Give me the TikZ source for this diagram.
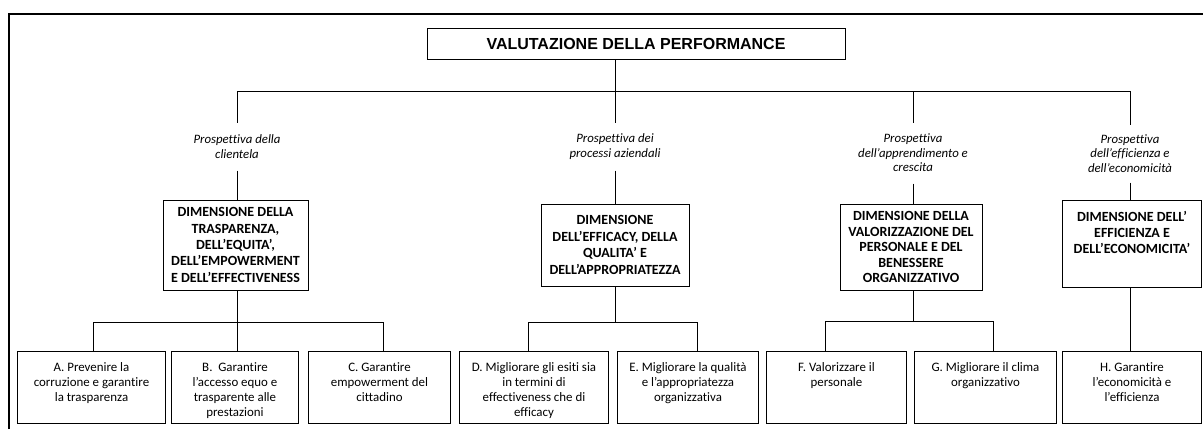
\documentclass[tikz,border=0pt]{standalone}
\usepackage{fontspec}
\setmainfont{Carlito}[Ligatures={TeX,NoCommon}]
\newfontfamily\titlefont{Liberation Sans}
\usepackage{tikz}

\begin{document}
\begin{tikzpicture}[x=1pt,y=-1pt,line width=1pt,
  mainbox/.style={draw, inner sep=0pt, minimum width=418pt, minimum height=31pt,
    font=\titlefont\bfseries\fontsize{16}{18}\selectfont},
  persp/.style={inner sep=0pt, align=center, font=\itshape\fontsize{12.8}{14.5}\selectfont},
  dimbox/.style={draw, inner sep=0pt, align=center, font=\bfseries\fontsize{14}{16.4}\selectfont},
  dimtext/.style={anchor=north, inner sep=0pt, yshift=-10.5pt, align=center,
    font=\bfseries\fontsize{14}{16.4}\selectfont},
  leaf/.style={draw, inner sep=0pt, anchor=north west, minimum height=72pt},
  leaftext/.style={anchor=north, inner sep=0pt, yshift=-11pt, align=center,
    font=\fontsize{12.9}{15}\selectfont}]
  \useasboundingbox (0,0) rectangle (1203,429);
  \draw[line width=1.2pt] (9,429) -- (9,14) -- (1203,14);

  \node[mainbox] (top) at (636,43.5) {VALUTAZIONE DELLA PERFORMANCE};

  % prospettive
  \node[persp, minimum height=47pt] (p1) at (237,146.5) {Prospettiva della\\clientela};
  \node[persp, minimum height=47pt] (p2) at (615,146.5) {Prospettiva dei\\processi aziendali};
  \node[persp, minimum height=60pt] (p3) at (913,153) {Prospettiva\\dell’apprendimento e\\crescita};
  \node[persp, minimum height=57pt] (p4) at (1130,153.5) {Prospettiva\\dell’efficienza e\\dell’economicità};

  % dimensioni
  \node[dimbox, minimum width=145pt, minimum height=90pt] (d1) at (235.5,245)
    {DIMENSIONE DELLA\\TRASPARENZA,\\DELL’EQUITA’,\\DELL’EMPOWERMENT\\E DELL’EFFECTIVENESS};
  \node[dimbox, minimum width=148pt, minimum height=82pt] (d2) at (615,245)
    {DIMENSIONE\\DELL’EFFICACY, DELLA\\QUALITA’ E\\DELL’APPROPRIATEZZA};
  \node[dimbox, minimum width=142pt, minimum height=86pt, font=\bfseries\fontsize{14}{15.5}\selectfont] (d3) at (911,247)
    {DIMENSIONE DELLA\\VALORIZZAZIONE DEL\\PERSONALE E DEL\\BENESSERE\\ORGANIZZATIVO};
  \node[leaf, minimum width=139pt, minimum height=87pt,
    label={[dimtext]north:{DIMENSIONE DELL’\\EFFICIENZA E\\DELL’ECONOMICITA’}}]
    (d4) at (1062,200) {};

  % obiettivi
  \node[leaf, minimum width=148pt, label={[leaftext]north:{A. Prevenire la\\corruzione e garantire\\la trasparenza}}] (a) at (17,351) {};
  \node[leaf, minimum width=127pt, label={[leaftext]north:{B.\ \ Garantire\\l’accesso equo e\\trasparente alle\\prestazioni}}] (b) at (171,351) {};
  \node[leaf, minimum width=142pt, label={[leaftext]north:{C. Garantire\\empowerment del\\cittadino}}] (c) at (308,351) {};
  \node[leaf, minimum width=149pt, label={[leaftext]north:{D. Migliorare gli esiti sia\\in termini di\\effectiveness che di\\efficacy}}] (d) at (459,351) {};
  \node[leaf, minimum width=141pt, label={[leaftext]north:{E. Migliorare la qualità\\e l’appropriatezza\\organizzativa}}] (e) at (617,351) {};
  \node[leaf, minimum width=140pt, label={[leaftext]north:{F. Valorizzare il\\personale}}] (f) at (766,351) {};
  \node[leaf, minimum width=142pt, label={[leaftext]north:{G. Migliorare il clima\\organizzativo}}] (g) at (914,351) {};
  \node[leaf, minimum width=139pt, label={[leaftext]north:{H. Garantire\\l’economicità e\\l’efficienza}}] (h) at (1062,351) {};

  % collegamenti
  \coordinate (bus) at (0,91);
  \draw (p1.north) |- (bus -| p4.north) -- (p4.north);
  \draw (top.south -| p2.north) -- (p2.north);
  \draw (bus -| p3.north) -- (p3.north);
  \foreach \p/\q in {p1/d1,p2/d2,p3/d3,p4/d4}
    \draw (\p.south) -- (\p.south |- \q.north);

  \coordinate (ja) at (93,322);
  \coordinate (jc) at (383,322);
  \coordinate (jd) at (528,322);
  \coordinate (je) at (697,322);
  \coordinate (jf) at (825,321);
  \coordinate (jg) at (993,321);
  \draw (ja |- a.north) -- (ja) -- (jc) -- (jc |- c.north);
  \draw (d1.south -| p1) -- (p1 |- b.north);
  \draw (jd |- d.north) -- (jd) -- (je) -- (je |- e.north);
  \draw (d2.south -| p2) -- (p2 |- jd);
  \draw (jf |- f.north) -- (jf) -- (jg) -- (jg |- g.north);
  \draw (d3.south -| p3) -- (p3 |- jf);
  \draw (d4.south -| p4) -- (p4 |- h.north);
\end{tikzpicture}
\end{document}
